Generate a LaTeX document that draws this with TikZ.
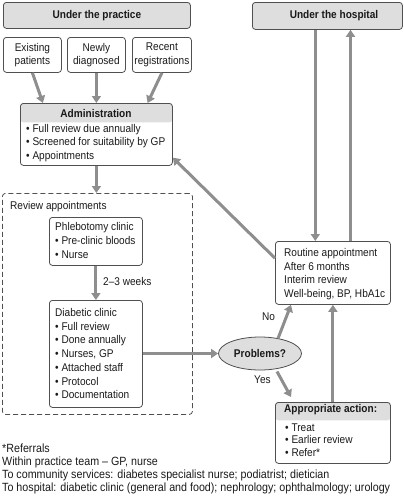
\documentclass[tikz,border=0pt]{standalone}
\usepackage{fontspec}
\setmainfont{Liberation Sans}[FakeStretch=0.9]
\usetikzlibrary{arrows.meta,shapes.geometric,calc}
\definecolor{bd}{HTML}{505050}
\definecolor{ar}{HTML}{8E8E8E}
\definecolor{hd}{HTML}{DEDEDE}
\definecolor{tx}{HTML}{1A1A1A}
\begin{document}
\begin{tikzpicture}[x=1pt,y=-1pt,
  box/.style={draw=bd, line width=0.8pt, rounded corners=3pt, inner sep=0pt, anchor=north west, text=tx, font=\fontsize{11.2}{13.5}\selectfont},
  hbox/.style={box, path picture={\fill[hd] (path picture bounding box.north west) rectangle ([yshift=-#1]path picture bounding box.north east);}},
  arr/.style={draw=ar, line width=3pt, -{Triangle[length=7pt,width=9pt]}},
  txt/.style={inner sep=0pt, anchor=north west, align=left, text=tx, font=\fontsize{11.2}{#1}\selectfont},
  txt/.default=13.7,
  bold/.style={inner sep=0pt, text=tx, font=\fontsize{11.2}{13}\selectfont\bfseries}
]
\useasboundingbox (0,0) rectangle (404,498);

% top boxes
\node[box, fill=hd, minimum width=187pt, minimum height=26pt] (prac) at (3,2) {\bfseries Under the practice};
\node[box, fill=hd, minimum width=150pt, minimum height=27pt] (hosp) at (252,2) {};
\node[bold] (hospt) at (334,16) {Under the hospital};

\node[box, align=center, minimum width=58pt, minimum height=35pt] (exist) at (3,37) {Existing\\patients};
\node[box, align=center, minimum width=58pt, minimum height=35pt] (newly) at (67,37) {Newly\\diagnosed};
\node[box, align=center, minimum width=59pt, minimum height=35pt] (recent) at (132,37) {Recent\\registrations};

% administration
\node[hbox=19pt, minimum width=152pt, minimum height=62pt] (admin) at (20,103) {};
\node[bold] (admint) at (96,113) {Administration};
\node[txt] (adminl) at (26,123.7) {• Full review due annually\\• Screened for suitability by GP\\• Appointments};

% review appointments
\node[box, dashed, dash pattern=on 5pt off 3pt, minimum width=190pt, minimum height=221pt] (review) at (2,193) {};
\node[txt] (reviewt) at (10,200.7) {Review appointments};
\node[box, minimum width=93pt, minimum height=48pt] (phleb) at (49,217) {};
\node[txt=14] (phlebt) at (55,222.2) {Phlebotomy clinic\\• Pre-clinic bloods\\• Nurse};
\node[box, minimum width=93pt, minimum height=107pt] (diab) at (49,300) {};
\node[txt] (diabt) at (55,308.2) {Diabetic clinic\\• Full review\\• Done annually\\• Nurses, GP\\• Attached staff\\• Protocol\\• Documentation};
\node[txt] (weeks) at (103,276.7) {2–3 weeks};

% right side
\node[box, minimum width=115pt, minimum height=63pt] (routine) at (275,241) {};
\node[txt] (routinet) at (284,248.2) {Routine appointment\\After 6 months\\Interim review\\Well-being, BP, HbA1c};
\node[ellipse, draw=bd, line width=0.8pt, fill=hd, minimum width=83pt, minimum height=33pt, inner sep=0pt, text=tx, font=\fontsize{11.2}{13}\selectfont\bfseries] (prob) at (260,353.5) {Problems?};
\node[hbox=18pt, minimum width=115pt, minimum height=61pt] (action) at (275,402) {};
\node[bold, anchor=north west] (actiont) at (284,404.5) {Appropriate action:};
\node[txt=12.8] (actionl) at (285,423.2) {• Treat\\• Earlier review\\• Refer*};

\node[txt=12.8, font=\fontsize{11.9}{12.8}\selectfont] (foot) at (2,444) {*Referrals\\Within practice team – GP, nurse\\To community services: diabetes specialist nurse; podiatrist; dietician\\To hospital: diabetic clinic (general and food); nephrology; ophthalmology; urology};

% arrows
\draw[arr] (exist.south) -- ($(admin.north west)!0.15!(admin.north east)$);
\draw[arr] (newly.south) -- (newly.south |- admin.north);
\draw[arr] (recent.south) -- ($(admin.north west)!0.835!(admin.north east)$);
\draw[arr] (admin.south) -- (admin.south |- review.north);
\draw[arr] (phleb.south) -- (diab.north);
\draw[arr] (diab.east |- prob.west) -- (prob.west);
\coordinate (r1) at ($(routine.north west)!0.348!(routine.north east)$);
\coordinate (r2) at ($(routine.north west)!0.652!(routine.north east)$);
\draw[arr] (hosp.south -| r1) -- (r1);
\draw[arr] (r2) -- (hosp.south -| r2);
\draw[arr] ($(routine.north west)!0.27!(routine.south west)$) -- ($(admin.north east)!0.87!(admin.south east)$);
\coordinate (nostart) at ($(prob.center)+(18,-15)$);
\coordinate (noend) at ($(routine.south west)+(16,0)$);
\draw[arr] (nostart) -- (noend);
\coordinate (yesstart) at ($(prob.center)+(17,18)$);
\coordinate (yesend) at ($(action.north west)+(16,-5)$);
\draw[arr] (yesstart) -- (yesend);
\draw[arr] (action.north) -- (routine.south);
\node[txt] (nolab) at (262,312.5) {No};
\node[txt] (yeslab) at (254,375.5) {Yes};
\end{tikzpicture}
\end{document}
